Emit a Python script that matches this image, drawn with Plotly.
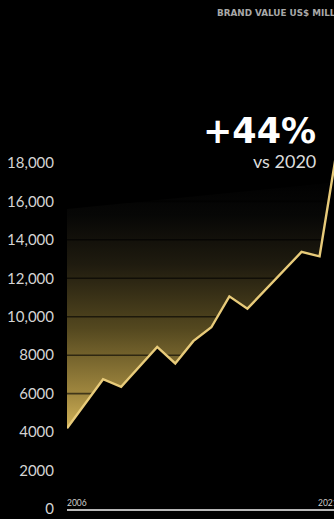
import plotly.graph_objects as go

# ---- data ----
years = list(range(2006, 2022))
brand_value = [4200, 5450, 6750, 6350, 7400, 8430, 7570, 8730, 9450,
               11060, 10420, 11400, 12400, 13370, 13140, 18920]
fade_top_years = [2006, 2021]
fade_top_values = [15600, 17000]
y_tick_values = [0, 2000, 4000, 6000, 8000, 10000, 12000, 14000, 16000, 18000]
y_tick_labels = ["0", "2000", "4000", "6000", "8000", "10,000", "12,000",
                 "14,000", "16,000", "18,000"]
grid_values = y_tick_values[1:]
title_text = "BRAND VALUE US$ MILLIONS"
big_text = "+44%"
sub_text = "vs 2020"
first_label = "2006"
last_label = "2021"

W, H = 334, 519
ML, MR, MT, MB = 67, 0, 86, 10
px_per_year = 18.04
x_end = years[0] + (W - ML - MR) / px_per_year
y_max = 22000

fig = go.Figure()

# upper edge of the golden fade (invisible)
fig.add_trace(go.Scatter(
    x=fade_top_years, y=fade_top_values, mode="lines",
    line=dict(width=0, color="rgba(0,0,0,0)"), hoverinfo="skip", showlegend=False))

# golden fade between the series and the upper edge
fig.add_trace(go.Scatter(
    x=years, y=brand_value, mode="lines", fill="tonexty",
    line=dict(width=0, color="rgba(0,0,0,0)"),
    fillgradient=dict(type="vertical", start=4000, stop=16800,
                      colorscale=[[0.0, "#d6b65a"], [0.15, "#a28940"],
                                  [0.42, "#54481f"], [0.68, "#1f1b0f"],
                                  [0.88, "#070706"], [1.0, "#020202"]]),
    hoverinfo="skip", showlegend=False))

# dark grid lines (visible only over the fade)
gx, gy = [], []
for v in grid_values:
    gx += [years[0], years[-1], None]
    gy += [v, v, None]
fig.add_trace(go.Scatter(
    x=gx, y=gy, mode="lines", line=dict(width=1.6, color="rgba(0,0,0,0.6)"),
    hoverinfo="skip", showlegend=False))

# the golden line
fig.add_trace(go.Scatter(
    x=years, y=brand_value, mode="lines",
    line=dict(width=2.4, color="#e8cb7a"), showlegend=False))

fig.update_layout(
    width=W, height=H,
    margin=dict(l=ML, r=MR, t=MT, b=MB, pad=0),
    paper_bgcolor="#000000", plot_bgcolor="#000000",
    template="none",
    xaxis=dict(range=[years[0], x_end], showgrid=False, zeroline=False,
               showticklabels=False, ticks="", showline=True,
               linecolor="#b8b8b8", linewidth=2, automargin=False, fixedrange=True),
    yaxis=dict(range=[0, y_max], showgrid=False, zeroline=False, showline=False,
               tickvals=y_tick_values, ticktext=y_tick_labels, ticks="",
               ticklabelstandoff=12,
               tickfont=dict(family="Lato", size=15, color="#d4d4d4"),
               automargin=False, fixedrange=True),
    annotations=[
        dict(text=big_text, xref="paper", yref="paper",
             x=(318 - ML) / (W - ML - MR), y=(H - MB - 131) / (H - MT - MB),
             xanchor="right", yanchor="middle", showarrow=False,
             font=dict(family="DejaVu Sans", size=35, color="#ffffff", weight="bold")),
        dict(text=sub_text, xref="paper", yref="paper",
             x=(318 - ML) / (W - ML - MR), y=(H - MB - 161) / (H - MT - MB),
             xanchor="right", yanchor="middle", showarrow=False,
             font=dict(family="Lato", size=18, color="#dcdcdc")),
        dict(text=title_text, xref="paper", yref="paper",
             x=(215 - ML) / (W - ML - MR), y=(H - MB - 13) / (H - MT - MB),
             xanchor="left", yanchor="middle", showarrow=False,
             font=dict(family="DejaVu Sans", size=8.8, color="#a8a8a8", weight="bold")),
        dict(text=first_label, xref="x", yref="paper",
             x=years[0], y=(H - MB - 503) / (H - MT - MB),
             xanchor="left", yanchor="middle", showarrow=False, xshift=-2,
             font=dict(family="Lato", size=8.5, color="#cccccc")),
        dict(text=last_label, xref="paper", yref="paper",
             x=1, y=(H - MB - 503) / (H - MT - MB),
             xanchor="right", yanchor="middle", showarrow=False, xshift=6,
             font=dict(family="Lato", size=8.5, color="#cccccc")),
    ],
)

fig.write_html("out.html", config={"displayModeBar": False})
